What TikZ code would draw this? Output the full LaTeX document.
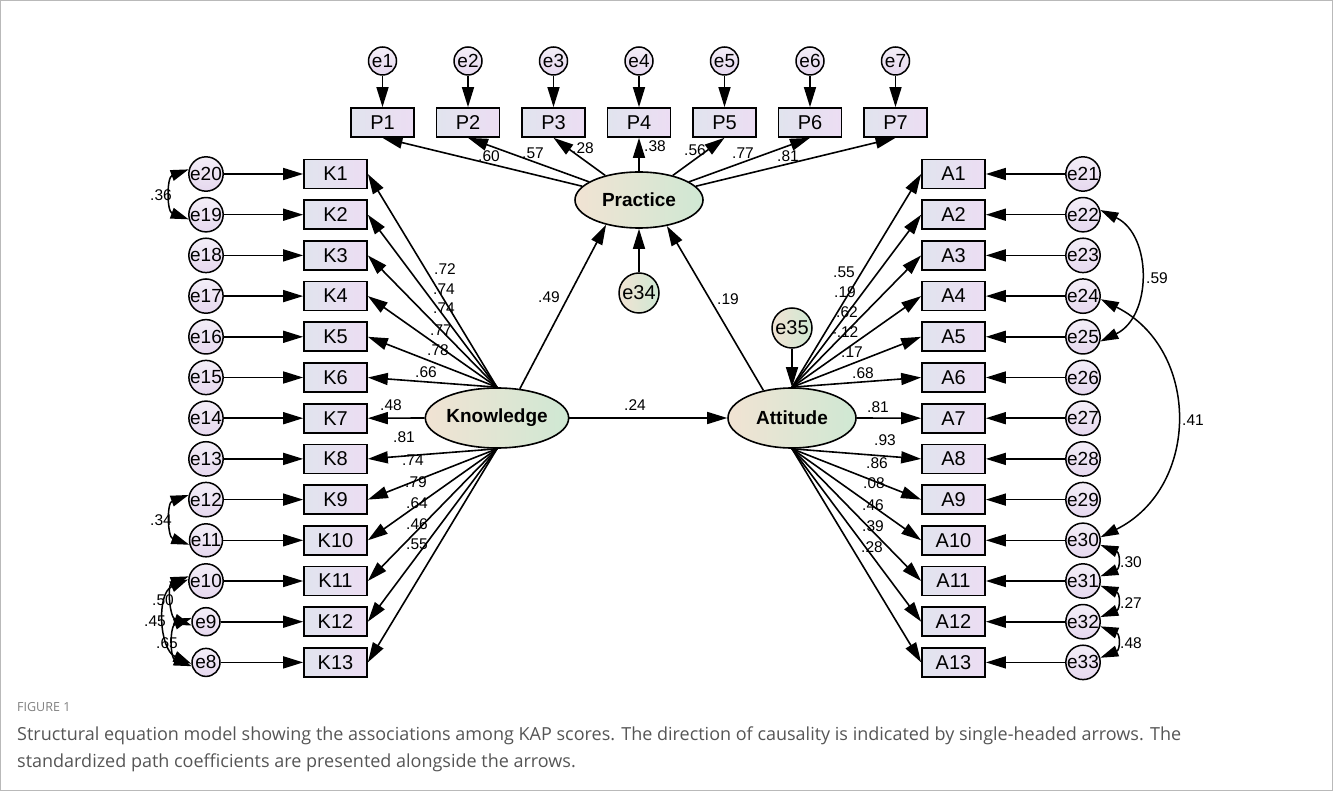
\documentclass[tikz,border=0pt]{standalone}
\usepackage{fontspec}
\setmainfont{Liberation Sans}
\newfontfamily\capfont{Open Sans}
\usetikzlibrary{shapes.geometric,arrows.meta}
\definecolor{boxL}{HTML}{E1E4EE}
\definecolor{boxR}{HTML}{ECDDF3}
\definecolor{errT}{HTML}{F3EEF7}
\definecolor{errB}{HTML}{E6D8EF}
\definecolor{latL}{HTML}{F1E3D3}
\definecolor{latR}{HTML}{CFE8D3}
\definecolor{capgray}{HTML}{555555}
\pgfdeclarelayer{bg}
\pgfsetlayers{bg,main}

\begin{document}
\begin{tikzpicture}[x=1pt,y=-1pt,
  obs/.style={draw,line width=1.7pt,minimum width=63pt,minimum height=29pt,inner sep=0pt,left color=boxL,right color=boxR,font=\fontsize{20}{20}\selectfont},
  err/.style={circle,draw,line width=1.5pt,minimum size=28pt,inner sep=0pt,top color=errT,bottom color=errB,font=\fontsize{19}{19}\selectfont},
  lat/.style={ellipse,draw,line width=1.6pt,minimum width=128pt,minimum height=60pt,inner sep=0pt,left color=latL,right color=latR,font=\bfseries\fontsize{19}{19}\selectfont},
  dist/.style={circle,draw,line width=1.5pt,minimum size=40pt,inner sep=0pt,left color=latL,right color=latR,font=\fontsize{20}{20}\selectfont},
  path/.style={line width=1.6pt,-{Triangle[length=20pt,width=12pt]}},
  cov/.style={line width=1.5pt,{Triangle[length=18pt,width=11pt]}-{Triangle[length=18pt,width=11pt]}},
  coef/.style={inner sep=0pt,font=\fontsize{15.5}{15.5}\selectfont}]
\useasboundingbox (0,0) rectangle (1333,791);
\draw[gray!55,line width=1pt] (0.5,0.5) rectangle (1332.5,790.5);

\node[lat] (Practice) at (639,200) [minimum height=56pt] {Practice};
\node[lat] (Knowledge) at (497,418) {Knowledge};
\node[lat] (Attitude) at (792,418) {Attitude};
\node[dist] (e34) at (639,293) {e34};
\node[dist] (e35) at (792,328) {e35};

\foreach \i in {1,...,7}{
  \pgfmathsetmacro\xx{382.5+85.5*(\i-1)}
  \node[obs] (P\i) at (\xx,122.5) {P\i};
  \node[err] (e\i) at (\xx,61) {e\i};
  \draw[path] (e\i) -- (P\i);
  \begin{pgfonlayer}{bg}
    \draw[path] (Practice) -- (P\i.south);
  \end{pgfonlayer}
}

\foreach \i in {1,...,13}{
  \pgfmathsetmacro\yy{174+40.7*(\i-1)}
  \pgfmathtruncatemacro\ek{21-\i}
  \pgfmathtruncatemacro\ea{20+\i}
  \node[obs] (K\i) at (335.5,\yy) {K\i};
  \node[err] (e\ek) at (206,\yy) {e\ek};
  \node[obs] (A\i) at (953.5,\yy) {A\i};
  \node[err] (e\ea) at (1083,\yy) {e\ea};
  \draw[path] (e\ek) -- (K\i);
  \draw[path] (e\ea) -- (A\i);
}

\begin{pgfonlayer}{bg}
  \foreach \i in {1,...,6}{
    \draw[path] (Knowledge.north) -- (K\i.east);
    \draw[path] (Attitude.north) -- (A\i.west);
  }
  \foreach \i in {8,...,13}{
    \draw[path] (Knowledge.south) -- (K\i.east);
    \draw[path] (Attitude.south) -- (A\i.west);
  }
  \draw[path] (Knowledge.west) -- (K7.east);
  \draw[path] (Attitude.east) -- (A7.west);
\end{pgfonlayer}

\draw[path] (Knowledge.52) -- (Practice.217);
\draw[path] (Attitude.136) -- (Practice.-43);
\draw[path] (Knowledge) -- (Attitude);
\draw[path] (e34) -- (Practice);
\draw[path] (e35) -- (Attitude);

\draw[cov] (e20.165) .. controls +(-22,8) and +(-22,-8) .. (e19.195);
\draw[cov] (e12.165) .. controls +(-22,8) and +(-22,-8) .. (e11.195);
\draw[cov] (e10.165) .. controls +(-22,8) and +(-22,-8) .. (e9.195);
\draw[cov] (e9.165) .. controls +(-22,8) and +(-22,-8) .. (e8.195);
\draw[cov] (e10.175) .. controls +(-32,14) and +(-32,-14) .. (e8.185);
\draw[cov] (e22.15) .. controls +(52,25) and +(52,-25) .. (e25.-15);
\draw[cov] (e24.-10) .. controls +(100,50) and +(100,-50) .. (e30.10);
\draw[cov] (e30.-15) .. controls +(20,8) and +(20,-8) .. (e31.15);
\draw[cov] (e31.-15) .. controls +(20,8) and +(20,-8) .. (e32.15);
\draw[cov] (e32.-15) .. controls +(20,8) and +(20,-8) .. (e33.15);

\foreach \n/\x/\y/\t in {K1/445/269/.72,K2/444/289/.74,K3/444/308/.74,K4/441/330/.77,
    K5/438/350/.78,K6/426/372/.66,K7/391/405/.48,K8/404/437/.81,K9/413/460/.74,
    K10/416/482/.79,K11/417/503/.64,K12/417/524/.46,K13/417/544/.55,
    A1/844/272/.55,A2/845/292/.19,A3/847/312/.62,A4/845/332/-.12,A5/852/352/.17,
    A6/863/373/.68,A7/878/407/.81,A8/885/440/.93,A9/877/463/.86,A10/874/483/.08,
    A11/873/505/.46,A12/873/526/.39,A13/872/547/.28,
    P1/489/156/.60,P2/533/153/.57,P3/583/148/.28,P4/655/146/.38,P5/695/150/.56,
    P6/743/153/.77,P7/788/156/.81,
    KP/549/297/.49,AP/728/299/.19,KA/635/405/.24,
    c2019/161/195/.36,c1211/161/520/.34,c109/163/600/.50,c108/155/621/.45,c98/167/643/.65,
    c2225/1157/278/.59,c2430/1193/420/.41,c3031/1131/562/.30,c3132/1131/603/.27,c3233/1131/643/.48}
  \node[coef] (l\n) at (\x,\y) {\t};

\node[anchor=west,inner sep=0pt,text=gray,font=\capfont\fontsize{12.5}{12.5}\selectfont] (figno) at (17,707) {FIGURE 1};
\node[anchor=north west,inner sep=0pt,align=left,text=capgray,font=\capfont\fontsize{18}{27}\selectfont] (caption) at (17,727)
  {Structural equation model showing the associations among KAP scores. The direction of causality is indicated by single-headed arrows. The\\
   standardized path coefficients are presented alongside the arrows.};
\end{tikzpicture}
\end{document}
